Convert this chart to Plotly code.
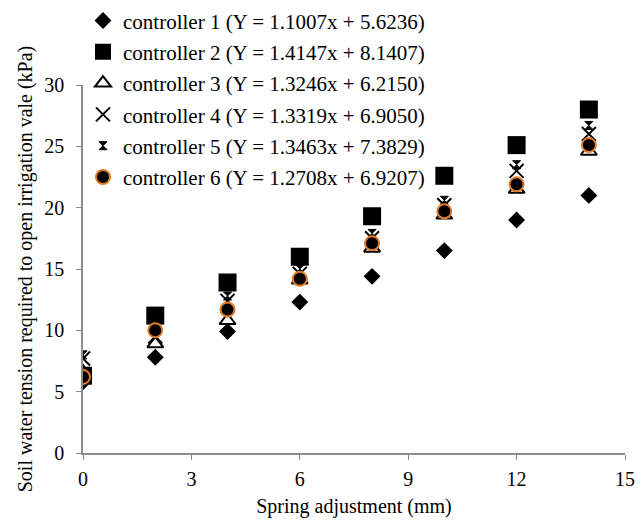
import plotly.graph_objects as go

x_mm = [0, 2, 4, 6, 8, 10, 12, 14]
c1 = [5.8, 7.8, 9.9, 12.3, 14.4, 16.5, 19.0, 21.0]
c2 = [6.3, 11.2, 13.9, 16.0, 19.3, 22.6, 25.1, 28.0]
c3 = [6.6, 8.9, 10.8, 14.1, 16.7, 19.4, 21.5, 24.6]
c4 = [7.7, 9.5, 12.4, 14.6, 17.5, 20.2, 23.0, 26.0]
c5 = [8.0, 10.4, 12.8, 15.0, 17.9, 20.6, 23.5, 26.7]
c6 = [6.2, 10.0, 11.7, 14.2, 17.1, 19.7, 21.9, 25.1]

names = [
    "controller 1 (Y = 1.1007x + 5.6236)",
    "controller 2 (Y = 1.4147x + 8.1407)",
    "controller 3 (Y = 1.3246x + 6.2150)",
    "controller 4 (Y = 1.3319x + 6.9050)",
    "controller 5 (Y = 1.3463x + 7.3829)",
    "controller 6 (Y = 1.2708x + 6.9207)",
]
series = [c1, c2, c3, c4, c5, c6]
markers = [
    dict(symbol="diamond", size=13, color="black"),
    dict(symbol="square", size=18, color="black"),
    dict(symbol="triangle-up-open", size=14, color="black", line=dict(width=2, color="black")),
    dict(symbol="x-thin-open", size=14, color="black", line=dict(width=2, color="black")),
    dict(symbol="hourglass", size=8, color="black", line=dict(width=1, color="black")),
    dict(symbol="circle", size=14, color="black", line=dict(width=2, color="#E07B2A")),
]

FONT = "Liberation Serif"
fig = go.Figure()
for i, (nm, ys, mk) in enumerate(zip(names, series, markers)):
    fig.add_trace(go.Scatter(x=x_mm, y=ys, mode="markers", name=nm, marker=mk,
                             legendgroup=f"g{i}"))

axis_col = "#8c8c8c"
fig.update_layout(
    width=644, height=520,
    margin=dict(l=83, r=19, t=85, b=67, autoexpand=False),
    paper_bgcolor="white", plot_bgcolor="white",
    font=dict(family=FONT, size=20, color="black"),
    showlegend=True,
    legend=dict(x=0.0, y=1.23, xanchor="left", yanchor="top",
                bgcolor="rgba(0,0,0,0)", borderwidth=0,
                font=dict(family=FONT, size=21, color="black"),
                tracegroupgap=1, itemsizing="trace"),
    xaxis=dict(range=[0, 15], tick0=0, dtick=3, showgrid=False, zeroline=False,
               showline=True, linecolor=axis_col, linewidth=1.5,
               ticks="outside", ticklen=5, tickcolor=axis_col, ticklabelstandoff=2,
               title=dict(text="Spring adjustment (mm)", font=dict(size=20), standoff=10)),
    yaxis=dict(range=[0, 30], tick0=0, dtick=5, showgrid=False, zeroline=False,
               showline=True, linecolor=axis_col, linewidth=1.5,
               ticks="outside", ticklen=5, tickcolor=axis_col, ticklabelstandoff=8,
               title=dict(text="Soil water tension required to open irrigation vale (kPa)",
                          font=dict(size=20), standoff=6)),
)
fig.write_html("out.html", config={"displayModeBar": False},
               post_script="document.body.style.margin='0';document.body.style.padding='0';")
